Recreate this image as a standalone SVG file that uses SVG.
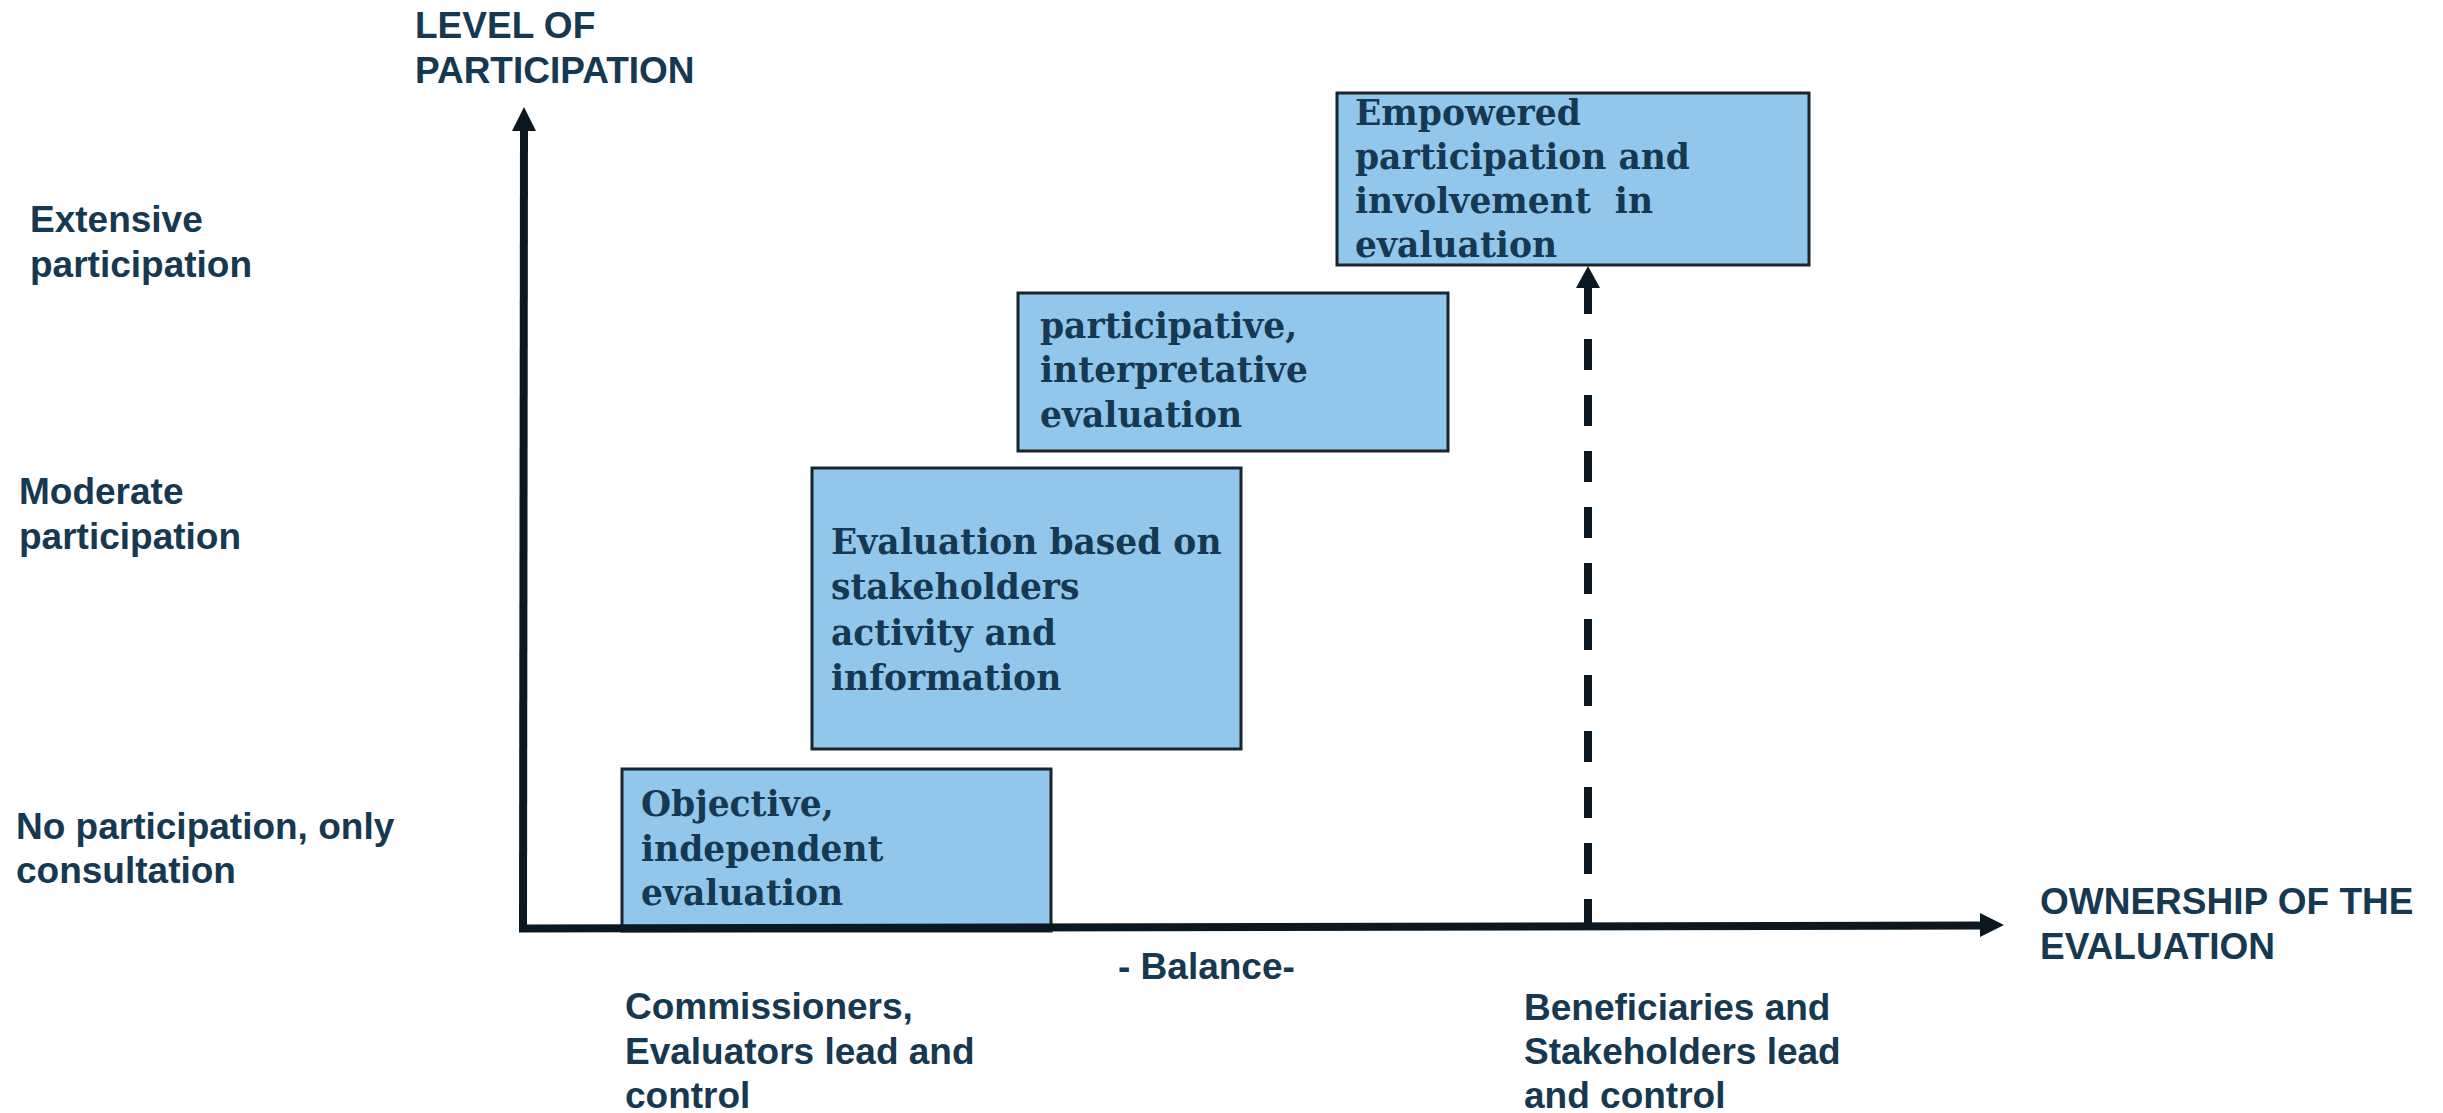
<svg xmlns="http://www.w3.org/2000/svg" width="2443" height="1113" viewBox="0 0 2443 1113">
<style>
.lbl{font-family:"Liberation Sans",Arial,sans-serif;font-weight:bold;font-size:37px;fill:#163850}
.box rect{fill:#92c6ea;stroke:#18242e;stroke-width:3}
.box text{font-family:"DejaVu Serif","Liberation Serif",serif;font-weight:bold;font-size:34.5px;fill:#163850;white-space:pre}
.ax{stroke:#0b1822;stroke-width:8;fill:none}
.head{fill:#0b1822}
</style>
<rect width="2443" height="1113" fill="#ffffff"/>
<g id="labels">
<text class="lbl" x="415" y="38">LEVEL OF</text>
<text class="lbl" x="415" y="83">PARTICIPATION</text>
<text class="lbl" x="30" y="232">Extensive</text>
<text class="lbl" x="30" y="277">participation</text>
<text class="lbl" x="19" y="504">Moderate</text>
<text class="lbl" x="19" y="549">participation</text>
<text class="lbl" x="16" y="839">No participation, only</text>
<text class="lbl" x="16" y="883">consultation</text>
<text class="lbl" x="1118" y="979">- Balance-</text>
<text class="lbl" x="625" y="1019">Commissioners,</text>
<text class="lbl" x="625" y="1064">Evaluators lead and</text>
<text class="lbl" x="625" y="1108">control</text>
<text class="lbl" x="1524" y="1020">Beneficiaries and</text>
<text class="lbl" x="1524" y="1064">Stakeholders lead</text>
<text class="lbl" x="1524" y="1108">and control</text>
<text class="lbl" x="2040" y="914">OWNERSHIP OF THE</text>
<text class="lbl" x="2040" y="959">EVALUATION</text>
</g>
<g id="node-objective" class="box">
<rect x="622" y="769" width="429" height="162"/>
<text x="641" y="816">Objective,</text>
<text x="641" y="861">independent</text>
<text x="641" y="905">evaluation</text>
</g>
<g id="node-stakeholders" class="box">
<rect x="812" y="468" width="429" height="281"/>
<text x="831" y="554">Evaluation based on</text>
<text x="831" y="599">stakeholders</text>
<text x="831" y="645">activity and</text>
<text x="831" y="690">information</text>
</g>
<g id="node-participative" class="box">
<rect x="1018" y="293" width="430" height="158"/>
<text x="1040" y="338">participative,</text>
<text x="1040" y="382">interpretative</text>
<text x="1040" y="427">evaluation</text>
</g>
<g id="node-empowered" class="box">
<rect x="1337" y="93" width="472" height="172"/>
<text x="1355" y="125">Empowered</text>
<text x="1355" y="169">participation and</text>
<text x="1355" y="213">involvement  in</text>
<text x="1355" y="257">evaluation</text>
</g>
<g id="connectors">
<path class="ax" d="M523 932 L524 128"/>
<polygon class="head" points="524,107 536,131 512,131"/>
<path class="ax" d="M519 928.5 L1982 925.5"/>
<polygon class="head" points="2004,925 1980,913 1980,937"/>
<path class="ax" d="M1588 283 L1588 928" stroke-dasharray="31 25"/>
<polygon class="head" points="1588,266 1600,288 1576,288"/>
</g>
</svg>
